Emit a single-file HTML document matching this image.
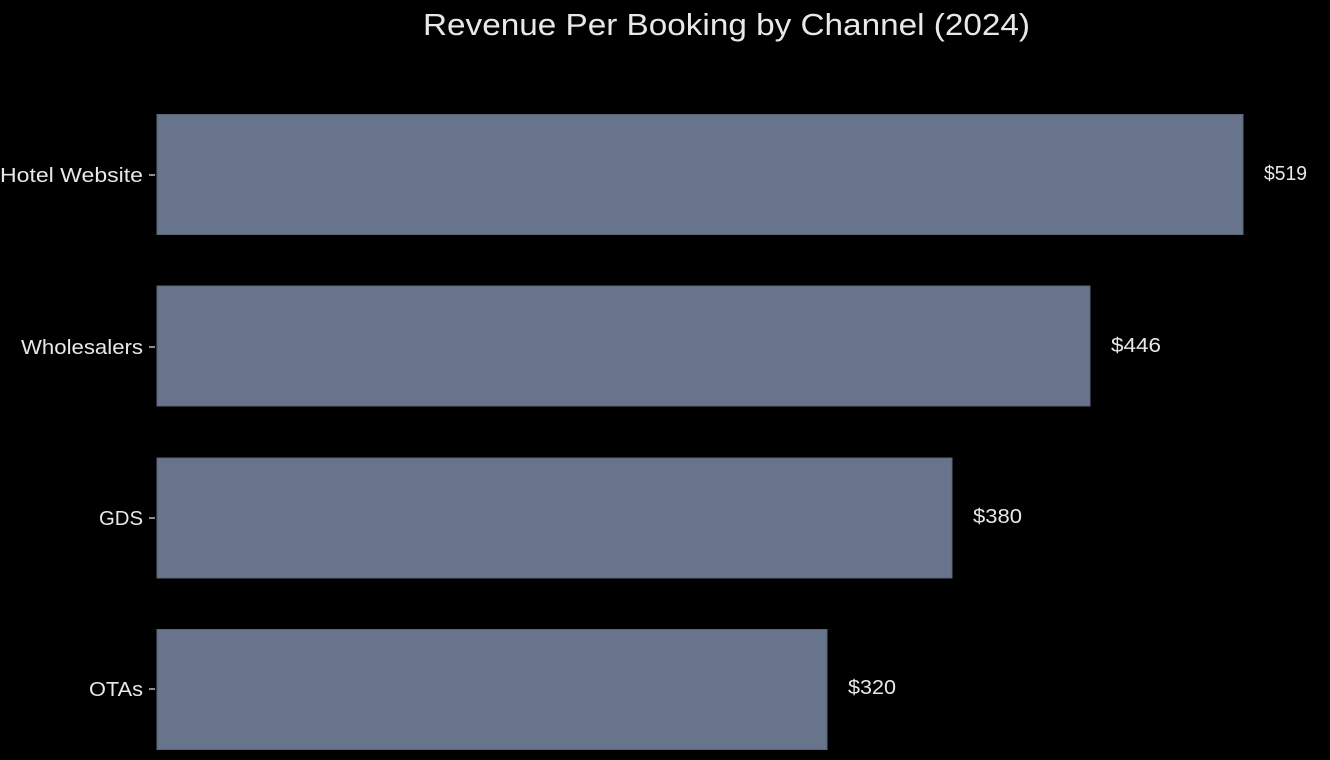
<!DOCTYPE html>
<html><head><style>
html,body{margin:0;padding:0;background:#000;}
svg{display:block;}
text{font-family:"Liberation Sans","DejaVu Sans",sans-serif;fill:#e8e8e8;}
</style></head><body>
<svg width="1330" height="760" viewBox="0 0 1330 760">
<rect width="1330" height="760" fill="#000"/>
<text x="423" y="35" font-size="31" textLength="607" lengthAdjust="spacingAndGlyphs">Revenue Per Booking by Channel (2024)</text>
<g fill="#67748b" stroke="#5a6578" stroke-width="1">
<rect x="157" y="114.5" width="1086" height="120"/>
<rect x="157" y="286" width="933" height="120"/>
<rect x="157" y="458" width="795" height="120"/>
<rect x="157" y="629.5" width="670" height="120"/>
</g>
<g stroke="#e8e8e8" stroke-width="1.2">
<line x1="149" x2="155" y1="175" y2="175"/>
<line x1="149" x2="155" y1="347" y2="347"/>
<line x1="149" x2="155" y1="518" y2="518"/>
<line x1="149" x2="155" y1="689" y2="689"/>
</g>
<g font-size="20" lengthAdjust="spacingAndGlyphs">
<text x="0" y="182" textLength="143" lengthAdjust="spacingAndGlyphs">Hotel Website</text>
<text x="21" y="354" textLength="122" lengthAdjust="spacingAndGlyphs">Wholesalers</text>
<text x="99" y="525" textLength="44" lengthAdjust="spacingAndGlyphs">GDS</text>
<text x="89" y="696" textLength="54" lengthAdjust="spacingAndGlyphs">OTAs</text>
</g>
<g font-size="20">
<text x="1264" y="180" textLength="43" lengthAdjust="spacingAndGlyphs">$519</text>
<text x="1111" y="352" textLength="50" lengthAdjust="spacingAndGlyphs">$446</text>
<text x="973" y="523" textLength="49" lengthAdjust="spacingAndGlyphs">$380</text>
<text x="848" y="694" textLength="48" lengthAdjust="spacingAndGlyphs">$320</text>
</g>
</svg>
</body></html>
